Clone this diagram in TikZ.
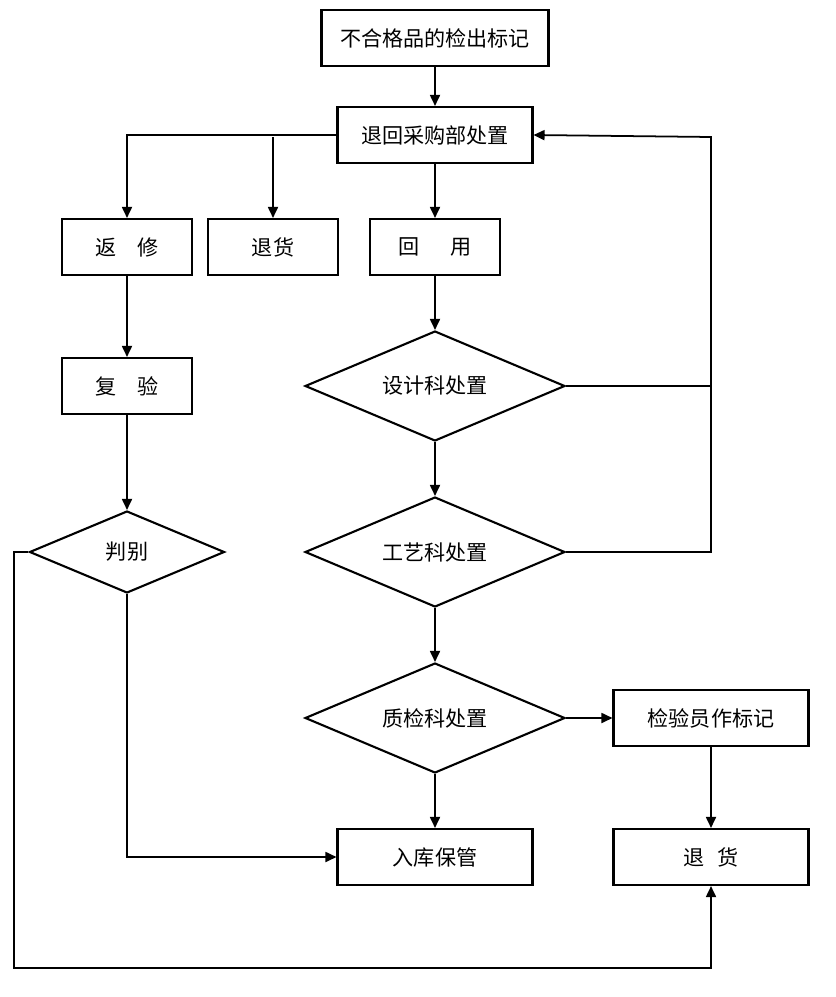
\documentclass[tikz,border=0pt]{standalone}
\usepackage{fontspec}
\newfontfamily\cjk{Noto Sans CJK SC}
\usetikzlibrary{arrows.meta, shapes.geometric}

\begin{document}
\begin{tikzpicture}[
  x=0.02cm, y=-0.02cm,
  box/.style={draw, line width=1.2pt, minimum height=1.12cm, inner sep=0pt, font=\cjk\fontsize{12}{14}\selectfont},
  wbox/.style={box, minimum width=3.9cm},
  sbox/.style={box, minimum width=2.6cm},
  dia/.style={diamond, aspect=2.4, draw, line width=1.2pt, inner sep=0pt, minimum width=5.2cm, minimum height=2.2cm, font=\cjk\fontsize{12}{14}\selectfont},
  arr/.style={-{Triangle[length=2.2mm, width=2mm]}, line width=1pt},
  ln/.style={line width=1pt}
]
\useasboundingbox (0,0) rectangle (835,997);

% top chain
\node[box, minimum width=4.54cm] (mark) at (435,38) {不合格品的检出标记};
\node[wbox] (ret) at (435,135) {退回采购部处置};

% three choices
\foreach \name/\x/\txt in {fx/127/{返\quad 修}, th/273/{退货}, hy/435/{回\hspace{1.45em}用}}{
  \node[sbox] (\name) at (\x,247) {\txt};
}
\node[sbox] (fy) at (127,386) {复\quad 验};

% decisions
\node[dia] (sj) at (435,386) {设计科处置};
\node[dia] (gy) at (435,552) {工艺科处置};
\node[dia] (zj) at (435,718) {质检科处置};
\node[dia, minimum width=3.9cm, minimum height=1.64cm] (pb) at (127,552) {判别};

% outcomes
\node[wbox] (jy) at (711,718) {检验员作标记};
\node[wbox] (rk) at (435,857) {入库保管};
\node[wbox] (th2) at (711,857) {退\hspace{0.6em}货};

\coordinate (fb) at (711,137);
\coordinate (lw) at (14,968);
\coordinate (j1) at (273,137);

\draw[arr] (mark) -- (ret);
\draw[arr] (ret.west) -| (fx.north);
\draw[arr] (j1) -- (th.north);
\draw[arr] (ret) -- (hy);
\draw[arr] (hy) -- (sj.north);
\draw[arr] (sj.east) -| (fb) -- (ret.east);
\draw[ln] (gy.east) -| (fb);
\draw[arr] (sj.south) -- (gy.north);
\draw[arr] (gy.south) -- (zj.north);
\draw[arr] (zj.south) -- (rk.north);
\draw[arr] (zj.east) -- (jy.west);
\draw[arr] (jy) -- (th2);
\draw[arr] (fx) -- (fy);
\draw[arr] (fy) -- (pb.north);
\draw[arr] (pb.south) |- (rk.west);
\draw[arr] (pb.west) -| (lw) -| (th2.south);
\end{tikzpicture}
\end{document}
